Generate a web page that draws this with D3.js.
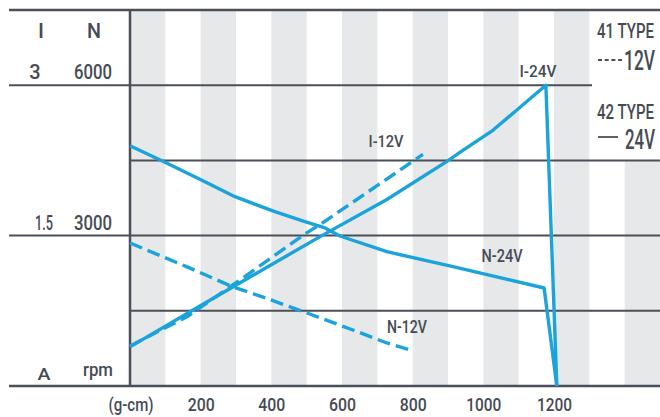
<!DOCTYPE html>
<html>
<head>
<meta charset="utf-8">
<script src="https://cdn.jsdelivr.net/npm/d3@7"></script>
<style>
  html, body { margin: 0; padding: 0; background: #fff; }
  svg { display: block; }
  text { font-family: 'Roboto', 'Liberation Sans', sans-serif; font-weight: 500; fill: #464b53; }
</style>
</head>
<body>
<svg id="chart" width="660" height="417"></svg>
<script>
// ---- data ----
const torqueI24 = [0, 170, 292, 538, 727, 897, 942, 1027, 1084, 1177, 1208];
const currentI24 = [0.39, 0.74, 0.99, 1.49, 1.86, 2.24, 2.35, 2.55, 2.72, 3.00, 0];

const torqueN24 = [0, 99, 212, 297, 410, 495, 552, 594, 727, 914, 1172, 1208];
const speedN24 = [4793, 4462, 4075, 3776, 3477, 3277, 3152, 2992, 2679, 2380, 1955, 0];

const torqueI12 = [0, 161, 292, 501, 538, 829];
const currentI12 = [0.40, 0.69, 1.01, 1.53, 1.61, 2.31];

const torqueN12 = [0, 160, 292, 387, 501, 631, 727, 793];
const speedN12 = [2852, 2380, 1975, 1749, 1456, 1117, 858, 718];

const xTicks = [200, 400, 600, 800, 1000, 1200];
const xUnit = "(g-cm)";
const rowValuesN = [6000, 3000];
const rowLabelsI = ["3", "1.5"];
const rowLabelsN = ["6000", "3000"];
const gridValuesN = [0, 1500, 3000, 4500, 6000, 7500];

// ---- layout ----
const svg = d3.select("#chart");
const x = d3.scaleLinear().domain([0, 1500]).range([130, 660]);
const yN = d3.scaleLinear().domain([0, 7500]).range([386, 10]);
const yI = d3.scaleLinear().domain([0, 3.75]).range([386, 10]);

const blue = "#1ba3db";
const gridColor = "#4b5058";

// stripes
const stripeStarts = d3.range(0, 1500, 200);
svg.append("g").selectAll("rect").data(stripeStarts).join("rect")
  .attr("x", d => x(d)).attr("width", d => x(Math.min(d + 100, 1500)) - x(d))
  .attr("y", yN(7500)).attr("height", yN(0) - yN(7500))
  .attr("fill", "#e6e8ea");

// legend background (covers stripes in the top-right box)
svg.append("rect").attr("x", 592).attr("y", yN(7500)).attr("width", 68).attr("height", yN(4500) - yN(7500))
  .attr("fill", "#fff");

// horizontal grid lines
const gl = svg.append("g");
gridValuesN.forEach(v => {
  let x1 = (v % 3000 === 0 || v === 7500) ? 9 : 130;
  let x2 = (v === 6000) ? 592 : 660;
  gl.append("line").attr("x1", x1).attr("x2", x2)
    .attr("y1", yN(v)).attr("y2", yN(v))
    .attr("stroke", gridColor).attr("stroke-width", (v === 0 || v === 7500) ? 2.5 : 2);
});
// vertical axis
svg.append("line").attr("x1", x(0)).attr("x2", x(0)).attr("y1", yN(7500)).attr("y2", yN(0))
  .attr("stroke", gridColor).attr("stroke-width", 2.5);

// helper: horizontally condensed text (scaled about its anchor point)
function ctext(g, tx, ty, str, size, len, weight) {
  const t = g.append("text").attr("font-size", size).text(str);
  if (weight) t.attr("font-weight", weight);
  let s = 1;
  if (len) {
    const w = t.node().getComputedTextLength();
    if (w > 0) s = len / w;
  }
  t.attr("transform", `translate(${tx},${ty}) scale(${s},1)`);
  return t;
}

// x axis labels
const xAxis = d3.axisBottom(x).tickValues([0].concat(xTicks)).tickSize(0)
  .tickFormat(d => d === 0 ? xUnit : d);
const gx = svg.append("g").attr("transform", `translate(0,${yN(0)})`).call(xAxis);
gx.select(".domain").remove();
gx.selectAll("text").attr("dy", 0).attr("y", 25)
  .style("font-family", "'Roboto', 'Liberation Sans', sans-serif")
  .style("font-weight", 500)
  .style("font-size", "19px").attr("fill", "#464b53")
  .attr("lengthAdjust", "spacingAndGlyphs")
  .attr("textLength", d => d === 0 ? 45 : (String(d).length === 3 ? 27 : 35));
gx.selectAll(".tick").filter(d => d === 0).attr("transform", `translate(${x(0) + 1},0)`);

// left labels
const lab = svg.append("g").attr("text-anchor", "middle");
ctext(lab, 41, 38, "I", 21, null, 700);
ctext(lab, 94, 38, "N", 21, 14, 700);
rowValuesN.forEach((v, i) => {
  ctext(lab, i === 0 ? 35 : 44, yN(v) - 6, rowLabelsI[i], 20, i === 0 ? null : 18);
  ctext(lab, 93, yN(v) - 6, rowLabelsN[i], 20, 38);
});
ctext(lab, 44, 380, "A", 17, 13, 700);
ctext(lab, 98, 376, "rpm", 19, 30);

// curves
const line = d3.line().curve(d3.curveLinear);
function draw(tx, ty, yScale, dashed) {
  const pts = tx.map((t, i) => [x(t), yScale(ty[i])]);
  svg.append("path").attr("d", line(pts)).attr("fill", "none")
    .attr("stroke", blue).attr("stroke-width", 3.4)
    .attr("stroke-linejoin", "round")
    .attr("stroke-dasharray", dashed ? "13,6" : null);
}
draw(torqueN24, speedN24, yN, false);
draw(torqueI24, currentI24, yI, false);
draw(torqueI12, currentI12, yI, true);
draw(torqueN12, speedN12, yN, true);

// curve labels
const cl = svg.append("g").attr("text-anchor", "middle");
ctext(cl, 386, 147, "I-12V", 17, 35);
ctext(cl, 407, 333, "N-12V", 18, 40);
ctext(cl, 502, 262, "N-24V", 18, 41);
ctext(cl, 538, 77, "I-24V", 17, 37);

// legend
const lg = svg.append("g");
ctext(lg, 597, 38, "41 TYPE", 21, 57);
lg.append("line").attr("x1", 598).attr("x2", 622).attr("y1", 60).attr("y2", 60)
  .attr("stroke", gridColor).attr("stroke-width", 2).attr("stroke-dasharray", "4,2.7");
ctext(lg, 624, 70, "12V", 28, 31);
ctext(lg, 597, 119, "42 TYPE", 21, 57);
lg.append("line").attr("x1", 598).attr("x2", 618).attr("y1", 137).attr("y2", 137)
  .attr("stroke", gridColor).attr("stroke-width", 1.8);
ctext(lg, 625, 149, "24V", 28, 30);
</script>
</body>
</html>
